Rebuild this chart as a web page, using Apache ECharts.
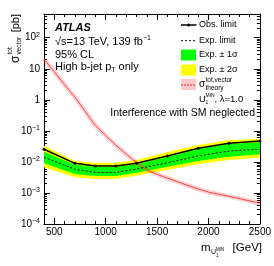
<!DOCTYPE html>
<html><head><meta charset="utf-8">
<script src="https://cdn.jsdelivr.net/npm/echarts@6/dist/echarts.min.js"></script>
<style>html,body{margin:0;padding:0;background:#fff}#c{width:274px;height:266px}</style>
</head><body><div id="c"></div>
<script>
// ---- data ----
const massPoints = [400, 700, 900, 1100, 1300, 1600, 1900, 2200, 2500];
const obsLimit   = [0.0255, 0.0090, 0.0074, 0.0074, 0.0090, 0.0155, 0.0274, 0.0397, 0.0471];
const expLimit   = [0.0141, 0.0058, 0.0046, 0.0046, 0.0059, 0.0094, 0.0155, 0.0224, 0.0255];
const exp1sUp    = [0.0213, 0.0081, 0.0070, 0.0070, 0.0084, 0.0144, 0.0260, 0.0377, 0.0428];
const exp1sDown  = [0.0090, 0.0041, 0.0035, 0.0035, 0.0045, 0.0070, 0.0107, 0.0147, 0.0176];
const exp2sUp    = [0.0333, 0.0107, 0.0094, 0.0094, 0.0115, 0.0208, 0.0350, 0.0507, 0.0547];
const exp2sDown  = [0.0067, 0.0032, 0.0028, 0.0028, 0.0036, 0.0055, 0.0084, 0.0115, 0.0136];
const theoryMass = [400, 500, 600, 700, 800, 900, 1000, 1100, 1200, 1300, 1400, 1500, 1600, 1800, 2000, 2200, 2500];
const theoryXsec = [20.4, 7.94, 3.09, 1.22, 0.427, 0.151, 0.0708, 0.0343, 0.0178, 0.00955, 0.00562, 0.00398, 0.00302, 0.00174, 0.00107, 0.000776, 0.000468];
const xMajorTicks = [500, 1000, 1500, 2000, 2500];
const xMinorTicks = [400, 600, 700, 800, 900, 1100, 1200, 1300, 1400, 1600, 1700, 1800, 1900, 2100, 2200, 2300, 2400];
const yMajorTicks = [1e-4, 1e-3, 1e-2, 1e-1, 1, 10, 100];
const yMinorTicks = [];
for (let e = -4; e <= 2; e++) for (let k = 2; k <= 9; k++) yMinorTicks.push(+(k * Math.pow(10, e)).toPrecision(3));

const FONT = '"Liberation Sans", Arial, Helvetica, sans-serif';
const chart = echarts.init(document.getElementById('c'), null, {renderer: 'canvas'});
const pairs = (xs, ys) => xs.map((x, i) => [x, ys[i]]);

function yLabel(v) {
  const n = Math.round(Math.log10(v));
  if (n === 0) return '{b|1}';
  if (n === 1) return '{b|10}';
  return '{b|10}{e|' + (n < 0 ? '\u2212' + (-n) : n) + '}';
}
const yRich = {
  b: {fontSize: 10, fontFamily: FONT, color: '#000', lineHeight: 13},
  e: {fontSize: 7, fontFamily: FONT, color: '#000', lineHeight: 8, verticalAlign: 'top'}
};
const X_MIN = 400, X_MAX = 2500, Y_MIN = 1e-4, Y_MAX = 580;
function xAx(pos, ticks, len, labels) {
  return {type: 'value', min: X_MIN, max: X_MAX, position: pos, gridIndex: 0,
    axisLine: {show: len === 6, lineStyle: {color: '#000', width: 1}},
    axisTick: {show: true, inside: true, length: len, customValues: ticks, lineStyle: {color: '#000', width: 1}},
    axisLabel: {show: labels, customValues: ticks, formatter: v => String(v), color: '#000', fontSize: 10, fontFamily: FONT, margin: 3},
    splitLine: {show: false}};
}
function yAx(pos, ticks, len, labels) {
  return {type: 'log', logBase: 10, min: Y_MIN, max: Y_MAX, position: pos, gridIndex: 0,
    axisLine: {show: len === 6, lineStyle: {color: '#000', width: 1}},
    axisTick: {show: true, inside: true, length: len, customValues: ticks, lineStyle: {color: '#000', width: 1}},
    axisLabel: {show: labels, customValues: ticks, formatter: yLabel, rich: yRich, margin: 4},
    splitLine: {show: false}, minorTick: {show: false}};
}

function band(up, dn, color) {
  return {type: 'custom', silent: true, z: 1,
    data: massPoints.map((m, i) => [m, up[i], dn[i]]),
    encode: {x: 0, y: [1, 2]},
    renderItem: (params, api) => {
      if (params.dataIndex !== 0) return;
      const top = massPoints.map((m, i) => api.coord([m, up[i]]));
      const bot = massPoints.map((m, i) => api.coord([m, dn[i]])).reverse();
      return {type: 'polygon', shape: {points: top.concat(bot)}, style: {fill: color}};
    }};
}

const T = (text, x, y, size, extra) => Object.assign({type: 'text', silent: true, z: 100,
  style: Object.assign({text: text, x: x, y: y, fill: '#000', font: size + 'px ' + FONT,
    align: 'left', textAlign: 'left', verticalAlign: 'middle', textVerticalAlign: 'middle'}, extra || {})});

const LX = 55;
const graphics = [
  T('ATLAS', LX, 28, 11, {font: 'italic bold 11px ' + FONT}),
  T('{n|\u221As=13 TeV, 139 fb}{s|\u22121}', LX, 42, 11, {rich: {
      n: {fontSize: 11, fontFamily: FONT, lineHeight: 14},
      s: {fontSize: 7, fontFamily: FONT, lineHeight: 8, verticalAlign: 'top'}}}),
  T('95% CL', LX, 54.5, 11),
  T('{n|High b-jet p}{s|T}{n| only}', LX, 67, 11, {rich: {
      n: {fontSize: 11, fontFamily: FONT, lineHeight: 14},
      s: {fontSize: 7, fontFamily: FONT, lineHeight: 8, verticalAlign: 'bottom'}}}),
  // legend
  {type: 'line', silent: true, z: 100, shape: {x1: 181, y1: 25, x2: 196.5, y2: 25}, style: {stroke: '#000', lineWidth: 1.5}},
  {type: 'circle', silent: true, z: 100, shape: {cx: 188.7, cy: 25, r: 1.5}, style: {fill: '#000'}},
  T('Obs. limit', 199, 25, 9),
  {type: 'line', silent: true, z: 100, shape: {x1: 181, y1: 40.7, x2: 196.5, y2: 40.7}, style: {stroke: '#000', lineWidth: 1, lineDash: [2, 2]}},
  T('Exp. limit', 199, 40.7, 9),
  {type: 'rect', silent: true, z: 100, shape: {x: 181, y: 49.5, width: 15, height: 11}, style: {fill: '#00ff00'}},
  T('Exp. \u00B1 1\u03C3', 199, 55, 9),
  {type: 'rect', silent: true, z: 100, shape: {x: 181, y: 64.5, width: 15, height: 11}, style: {fill: '#ffff00'}},
  T('Exp. \u00B1 2\u03C3', 199, 70, 9),
  {type: 'rect', silent: true, z: 100, shape: {x: 181, y: 79, width: 15, height: 11}, style: {fill: '#ffc8c8'}},
  {type: 'line', silent: true, z: 101, shape: {x1: 181, y1: 85, x2: 196, y2: 85}, style: {stroke: '#ff3030', lineWidth: 1, lineDash: [2, 1]}},
  T('\u03C3', 199, 84.5, 10),
  T('tot,vector', 205.5, 80.5, 6.5),
  T('theory', 205.5, 88.5, 6.5),
  T('U', 199, 99, 9.5),
  T('MIN', 205.5, 96, 5),
  T('1', 205.5, 102.5, 5),
  T(', \u03BB=1.0', 214.5, 99, 9.5),
  T('Interference with SM neglected', 255, 113.3, 10.5, {align: 'right', textAlign: 'right'}),
  // x title
  T('m', 201, 248, 11.5),
  T('U', 211, 252.5, 7),
  T('MIN', 216, 250, 4.5),
  T('1', 216, 256, 4.5),
  T('[GeV]', 262, 248, 11.5, {align: 'right', textAlign: 'right'}),
  // y title (rotated)
  {type: 'group', x: 15.5, y: 14, rotation: Math.PI / 2, silent: true, children: [
    T('[pb]', 0, 0, 11, {align: 'right', textAlign: 'right'}),
    T('\u03C3', -49, 0, 12),
    T('tot', -40.5, -5.5, 6.5),
    T('vector', -40.5, 3.5, 6.5)
  ]}
];

const option = {
  animation: false,
  backgroundColor: '#fff',
  grid: {left: 44, right: 14, top: 14, bottom: 42, containLabel: false},
  xAxis: [xAx('bottom', xMajorTicks, 6, true), xAx('bottom', xMinorTicks, 3, false),
          xAx('top', xMajorTicks, 6, false), xAx('top', xMinorTicks, 3, false)],
  yAxis: [yAx('left', yMajorTicks, 6, true), yAx('left', yMinorTicks, 3, false),
          yAx('right', yMajorTicks, 6, false), yAx('right', yMinorTicks, 3, false)],
  series: [
    band(exp2sUp, exp2sDown, '#ffff00'),
    band(exp1sUp, exp1sDown, '#00ff00'),
    {type: 'line', name: 'theoryBand', z: 3, data: pairs(theoryMass, theoryXsec), smooth: 0.3, symbol: 'none',
     lineStyle: {color: 'rgba(255,90,90,0.28)', width: 4.5}, silent: true},
    {type: 'line', name: 'theory', z: 4, data: pairs(theoryMass, theoryXsec), smooth: 0.3, symbol: 'none',
     lineStyle: {color: 'rgba(255,50,50,0.9)', width: 1}, silent: true},
    {type: 'line', name: 'exp', z: 5, data: pairs(massPoints, expLimit), symbol: 'none',
     lineStyle: {color: '#000', width: 1, type: [2, 2]}, silent: true},
    {type: 'line', name: 'obs', z: 6, data: pairs(massPoints, obsLimit), symbol: 'circle', symbolSize: 3,
     itemStyle: {color: '#000'}, lineStyle: {color: '#000', width: 1.5}, silent: true}
  ],
  graphic: graphics
};
chart.setOption(option);
</script></body></html>
